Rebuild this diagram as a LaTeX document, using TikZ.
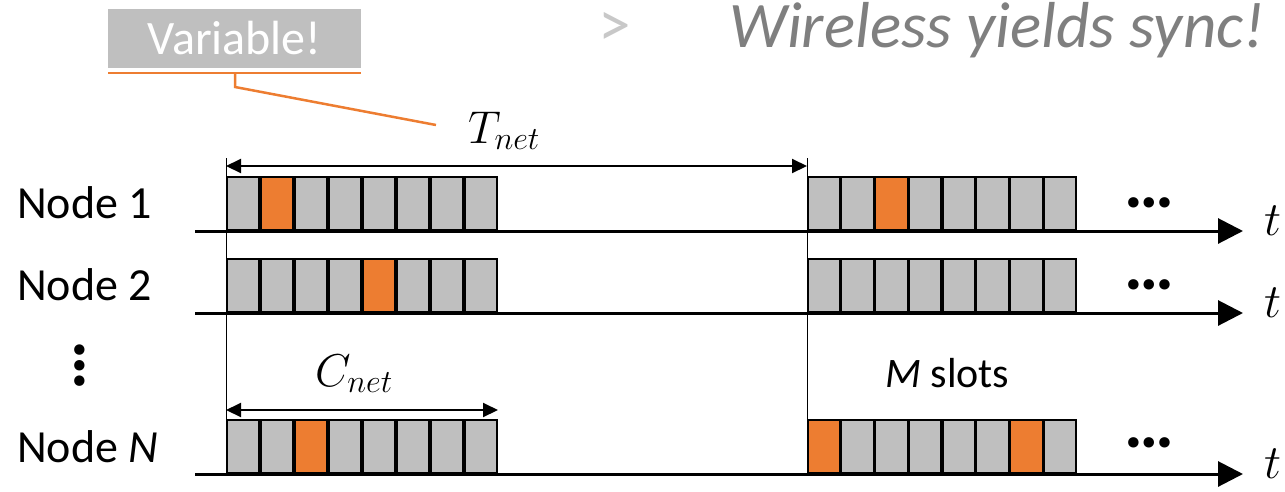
\documentclass[tikz,border=0pt]{standalone}
\usepackage{fix-cm}
\usepackage{fontspec}
\setmainfont{Carlito}
\usetikzlibrary{arrows.meta}
\definecolor{slotgray}{HTML}{BFBFBF}
\definecolor{slotorange}{HTML}{ED7D31}
\definecolor{titlegray}{HTML}{7F7F7F}
\definecolor{promptgray}{HTML}{C8C8C8}
\begin{document}
\begin{tikzpicture}[x=1pt,y=-1pt,
  slot/.style={draw=black, line width=1.7pt, fill=slotgray, minimum width=32.3pt,
    minimum height=53.3pt, inner sep=0pt, outer sep=0pt},
  hot/.style={slot, fill=slotorange},
  timeaxis/.style={line width=3pt, -{Triangle[length=25pt,width=25pt]}},
  span/.style={line width=2pt, {Triangle[length=15pt,width=14pt]}-{Triangle[length=15pt,width=14pt]}},
  guide/.style={line width=1pt},
  callout/.style={draw=slotorange, line width=2.5pt},
  big/.style={font=\fontsize{46}{50}\selectfont, inner sep=0pt},
  lbl/.style={big, anchor=base west},
  dots/.style={font=\fontsize{70}{74}\selectfont\bfseries, inner sep=0pt, anchor=center},
  tlabel/.style={font=\fontsize{48}{52}\selectfont, inner sep=0pt, anchor=base west}
]
\useasboundingbox (0,0) rectangle (1285,491);

% heading
\node[font=\fontsize{65}{70}\selectfont, text=promptgray, anchor=base west, inner sep=0pt] (prompt) at (598,46) {>};
\node[font=\fontsize{65}{70}\selectfont\itshape, text=titlegray, anchor=base west, inner sep=0pt] (title) at (729,47) {Wireless yields sync!};

% "Variable!" tag with its callout to the period
\node[fill=slotgray, minimum width=253pt, minimum height=59pt, inner sep=0pt, text=white,
  font=\fontsize{48}{52}\selectfont] (var) at (234.5,38.5) {Variable!};
\coordinate (ulL) at (108,73);
\coordinate (ulR) at (361,73);
\coordinate (ulM) at (235,73);
\coordinate (bend) at (235,87);
\coordinate (tip) at (436,125);
\draw[callout] (ulL) -- (ulR);
\draw[callout] (ulM) -- (bend) -- (tip);

% frame boundaries
\coordinate (g1top) at (226,158);
\coordinate (g1bot) at (226,419);
\coordinate (g2top) at (807,158);
\coordinate (g2bot) at (807,419);
\draw[guide] (g1top) -- (g1bot);
\draw[guide] (g2top) -- (g2bot);

% slots: node 1
\foreach \i/\s in {1/slot,2/hot,3/slot,4/slot,5/slot,6/slot,7/slot,8/slot}
  \node[\s] (a\i) at ({226+(\i-0.5)*34},203.5) {};
\foreach \i/\s in {1/slot,2/slot,3/hot,4/slot,5/slot,6/slot,7/slot,8/slot}
  \node[\s] (b\i) at ({807+(\i-0.5)*33.75},203.5) {};
% slots: node 2
\foreach \i/\s in {1/slot,2/slot,3/slot,4/slot,5/hot,6/slot,7/slot,8/slot}
  \node[\s] (c\i) at ({226+(\i-0.5)*34},285.5) {};
\foreach \i/\s in {1/slot,2/slot,3/slot,4/slot,5/slot,6/slot,7/slot,8/slot}
  \node[\s] (d\i) at ({807+(\i-0.5)*33.75},285.5) {};
% slots: node N
\foreach \i/\s in {1/slot,2/slot,3/hot,4/slot,5/slot,6/slot,7/slot,8/slot}
  \node[\s] (e\i) at ({226+(\i-0.5)*34},446.5) {};
\foreach \i/\s in {1/hot,2/slot,3/slot,4/slot,5/slot,6/slot,7/hot,8/slot}
  \node[\s] (f\i) at ({807+(\i-0.5)*33.75},446.5) {};

% time axes
\coordinate (x1s) at (195,231);  \coordinate (x1e) at (1243,231);
\coordinate (x2s) at (195,313);  \coordinate (x2e) at (1243,313);
\coordinate (x3s) at (195,474);  \coordinate (x3e) at (1243,474);
\draw[timeaxis] (x1s) -- (x1e);
\draw[timeaxis] (x2s) -- (x2e);
\draw[timeaxis] (x3s) -- (x3e);
\node[tlabel] (t1) at (1264,235) {$t$};
\node[tlabel] (t2) at (1264,317) {$t$};
\node[tlabel] (t3) at (1264,478) {$t$};

% continuation dots
\node[dots] (m1) at (1149,203) {…};
\node[dots] (m2) at (1149,285) {…};
\node[dots] (m3) at (1149,443) {…};
\node[dots, rotate=90] (vd) at (80,366) {…};

% row labels
\node[lbl] (n1) at (17,218) {Node 1};
\node[lbl] (n2) at (17,300) {Node 2};
\node[lbl] (nN) at (17,462) {Node \textit{N}};

% period and cycle spans
\coordinate (tL) at (226,166);
\coordinate (tR) at (807,166);
\draw[span] (tL) -- (tR);
\node[big, anchor=base west] (tnet) at (468,143) {$T_{net}$};
\coordinate (cL) at (226,410);
\coordinate (cR) at (498,410);
\draw[span] (cL) -- (cR);
\node[big, anchor=base west] (cnet) at (315,386) {$C_{net}$};

\node[font=\fontsize{42}{46}\selectfont, anchor=base west, inner sep=0pt] (mslots) at (885,387) {\textit{M} slots};
\end{tikzpicture}
\end{document}
